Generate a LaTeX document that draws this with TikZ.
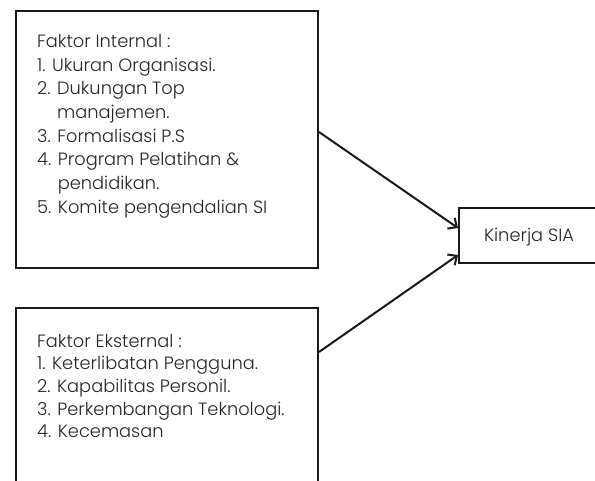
\documentclass[tikz,border=0pt]{standalone}
\usepackage{fontspec}
\setmainfont{Poppins}[UprightFont=* Light]
\usetikzlibrary{arrows.meta}
\begin{document}
\begin{tikzpicture}[x=1pt,y=-1pt,
  box/.style={draw=black!90, line width=2pt, rectangle, inner sep=0pt, anchor=north west},
  txt/.style={anchor=north west, inner sep=0pt, align=left, font=\fontsize{17.8}{23.7}\selectfont, text=black!85},
  conn/.style={line width=2pt, draw=black!90, -{Straight Barb[length=7pt,width=13pt,line width=2pt]}}]
\useasboundingbox (0,0) rectangle (595,480);
\clip (0,0) rectangle (595,480);
\node[box, minimum width=302pt, minimum height=257pt] (int) at (15,10) {};
\node[txt] (inttxt) at (37,34) {Faktor Internal :\\
1. Ukuran Organisasi.\\
2. Dukungan Top\\
\phantom{2. }manajemen.\\
3. Formalisasi P.S\\
4. Program Pelatihan \&\\
\phantom{4. }pendidikan.\\
5. Komite pengendalian SI};
\node[box, minimum width=302pt, minimum height=200pt] (ext) at (15,307) {};
\node[txt, font=\fontsize{17.8}{22.6}\selectfont] (exttxt) at (37,334) {Faktor Eksternal :\\
1. Keterlibatan Pengguna.\\
2. Kapabilitas Personil.\\
3. Perkembangan Teknologi.\\
4. Kecemasan};
\node[box, minimum width=150pt, minimum height=55pt] (kin) at (458,207) {};
\node[anchor=base, inner sep=0pt, font=\fontsize{17.8}{20}\selectfont, text=black!85] (kintxt) at (529,241) {Kinerja SIA};
\draw[conn] ([yshift=-122pt]int.north east) -- ([yshift=-21pt]kin.north west);
\draw[conn] ([yshift=-45pt]ext.north east) -- ([yshift=-48pt]kin.north west);
\end{tikzpicture}
\end{document}
